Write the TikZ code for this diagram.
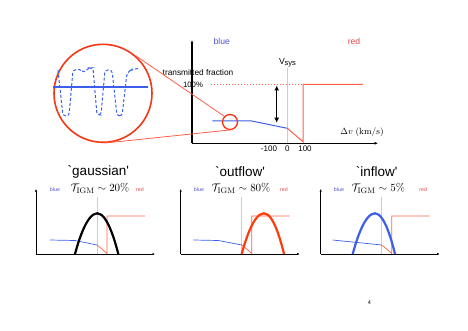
\documentclass[tikz,border=0pt]{standalone}
\usepackage[no-math]{fontspec}
\setmainfont{Liberation Sans}
\usetikzlibrary{arrows.meta}
\definecolor{bluetxt}{RGB}{80,80,215}
\definecolor{redtxt}{RGB}{225,75,75}
\definecolor{bluec}{RGB}{60,95,235}
\definecolor{redc}{RGB}{255,95,75}
\definecolor{circred}{RGB}{245,55,20}
\definecolor{orangec}{RGB}{255,60,10}
\tikzset{
  axis/.style={line width=1.1pt,-{Latex[length=3.5pt,width=3pt]}},
  paxis/.style={line width=0.9pt,-{Latex[length=2.5pt,width=2.2pt]}},
  vline/.style={draw=gray!40,line width=0.6pt},
  lbl/.style={inner sep=0pt,font=\fontsize{8.3}{9}\selectfont},
  smalllbl/.style={inner sep=0pt,font=\fontsize{5.3}{6}\selectfont},
  ttl/.style={inner sep=0pt,font=\fontsize{13.5}{15}\selectfont},
  tau/.style={inner sep=0pt,font=\fontsize{11}{12}\selectfont},
  para/.style={line width=2.2pt},
}
\newcommand{\mypanel}[1]{%
  \draw[paxis] (#1,254) -- (#1,189);
  \draw[paxis] (#1,254) -- ({#1+119},254);
  \draw[vline] ({#1+61},197) -- ({#1+61},254);
  \draw[redc,line width=0.7pt] ({#1+61},245) -- ({#1+71},253.3) -- ({#1+71},216) -- ({#1+109},216);
}
\begin{document}
\begin{tikzpicture}[x=1pt,y=-1pt]
\useasboundingbox (0,0) rectangle (468,331);

% ===== top main plot =====
\draw[axis] (192,143.3) -- (192,40);
\draw[axis] (192,143.3) -- (378,143.3);
\draw[vline] (287.3,68) -- (287.3,143.3);
\draw[redc,dotted,line width=1pt] (211,85) -- (303,85);
\draw[redc,line width=1pt] (287.3,128.3) -- (303,141.7) -- (303,84.5) -- (363,84.5);
\draw[bluec,line width=1pt] (212.3,121) -- (251.7,121) -- (287.3,128.3);
\draw[{Latex[length=5pt,width=5pt]}-{Latex[length=5pt,width=5pt]},line width=1.3pt] (276.7,85.5) -- (276.7,122.7);

\node[lbl,text=bluetxt,font=\fontsize{8.6}{9}\selectfont] (blue) at (221.7,41.7) {blue};
\node[lbl,text=redtxt,font=\fontsize{8.6}{9}\selectfont] (red) at (354,41.7) {red};
\node[lbl,font=\fontsize{8.6}{9}\selectfont] (vsys) at (287.5,63) {V\raisebox{-1.5pt}{\fontsize{7.5}{8}\selectfont sys}};
\node[lbl] (tf) at (198,72.7) {transmitted fraction};
\node[lbl,font=\fontsize{7.8}{9}\selectfont] (hund) at (193,85) {100\%};
\node[lbl,font=\fontsize{8}{9}\selectfont] (m100) at (269,149) {-100};
\node[lbl,font=\fontsize{8}{9}\selectfont] (zero) at (287.3,149) {0};
\node[lbl,font=\fontsize{8}{9}\selectfont] (p100) at (305,149) {100};
\node[lbl,font=\fontsize{9.5}{10}\selectfont] (dv) at (362,132.5) {$\Delta v\ (\mathrm{km/s})$};

% ===== magnifier =====
\node[circle,draw=circred,line width=1.6pt,minimum size=98pt,inner sep=0pt] (big) at (103,93.3) {};
\node[circle,draw=circred,line width=1.3pt,minimum size=15pt,inner sep=0pt] (small) at (230,122) {};
\draw[redc,line width=0.8pt] (big.49) -- (small.135);
\draw[redc,line width=0.8pt] (big.272) -- (small.290);
\draw[bluec,line width=1pt,densely dashed,rounded corners=3pt]
  (58,70) -- (63,116) -- (69,116) -- (73,70) -- (80,69) -- (84,73) -- (88,68) -- (93,68)
  -- (97,115) -- (101,115) -- (105,70) -- (112,70) -- (117,116) -- (122,116)
  -- (127,73) -- (131,70) -- (140,68);
\draw[bluec,line width=1.8pt] (53,87.3) -- (148,87.3);

% ===== panel 1 =====
\mypanel{36}
\draw[bluec,line width=0.7pt] (50,240) -- (75,240.5) -- (97,245);
\draw[black,para] (75,254) parabola bend (97.3,213.3) (118.3,254);
\node[ttl] (t1) at (98.3,171.7) {\textasciigrave gaussian\textquotesingle};
\node[tau] (tau1) at (100,188.3) {$\mathcal{T}_{\mathrm{IGM}}\sim 20\%$};
\node[smalllbl,text=bluetxt] (b1) at (55,189.3) {blue};
\node[smalllbl,text=redtxt] (r1) at (140,189.3) {red};

% ===== panel 2 =====
\mypanel{180.7}
\draw[bluec,line width=0.7pt] (193.3,240) -- (218.3,240.5) -- (241.7,245);
\draw[orangec,para] (241.7,254) parabola bend (264,213.3) (284,254);
\node[ttl] (t2) at (240,171.7) {\textasciigrave outflow\textquotesingle};
\node[tau] (tau2) at (241,188.3) {$\mathcal{T}_{\mathrm{IGM}}\sim 80\%$};
\node[smalllbl,text=bluetxt] (b2) at (199,189.3) {blue};
\node[smalllbl,text=redtxt] (r2) at (284,189.3) {red};

% ===== panel 3 =====
\mypanel{320.7}
\draw[bluec,line width=0.7pt] (332.7,240) -- (381.7,245);
\draw[bluec,para] (352.7,254) parabola bend (375,213.3) (395,254);
\node[ttl] (t3) at (376.7,171.7) {\textasciigrave inflow\textquotesingle};
\node[tau] (tau3) at (378.3,188.3) {$\mathcal{T}_{\mathrm{IGM}}\sim 5\%$};
\node[smalllbl,text=bluetxt] (b3) at (339,189.3) {blue};
\node[smalllbl,text=redtxt] (r3) at (423.3,189.3) {red};

\node[inner sep=0pt,font=\fontsize{5.5}{6}\selectfont] (pg) at (369.3,302.3) {4};
\end{tikzpicture}
\end{document}
